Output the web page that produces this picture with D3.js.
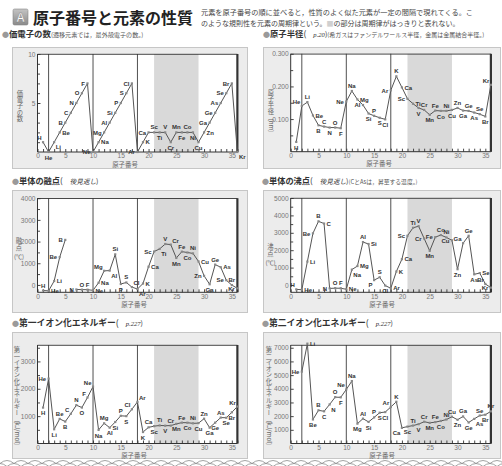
<!DOCTYPE html>
<html><head><meta charset="utf-8">
<script src="https://cdn.jsdelivr.net/npm/d3@7"></script>
<style>
body{margin:0;background:#fff;}
svg{display:block;}
</style></head><body>
<svg id="chart" width="502" height="466"></svg>
<script>
// ---- data ----
const elements = ["H","He","Li","Be","B","C","N","O","F","Ne","Na","Mg","Al","Si","P","S","Cl","Ar","K","Ca","Sc","Ti","V","Cr","Mn","Fe","Co","Ni","Cu","Zn","Ga","Ge","As","Se","Br","Kr"];
const atomicNumbers = d3.range(1, 37);

const valenceElectrons = [1,0,1,2,3,4,5,6,7,0,1,2,3,4,5,6,7,0,1,2,2,2,2,1,2,2,2,2,1,2,3,4,5,6,7,0];
const atomicRadius = [0.030,0.140,0.152,0.111,0.081,0.077,0.074,0.074,0.072,0.154,0.186,0.160,0.143,0.117,0.110,0.104,0.099,0.188,0.231,0.197,0.162,0.147,0.134,0.128,0.113,0.126,0.125,0.125,0.128,0.134,0.126,0.125,0.120,0.115,0.108,0.205];
const meltingPoint = [-259,-272,181,1282,2077,null,-210,-218,-220,-249,98,650,660,1410,44,113,-101,-189,64,839,1541,1660,1887,1860,1244,1535,1495,1453,1083,420,30,937,817,217,-7,-157];
const boilingPoint = [-253,-269,1347,2970,3660,3530,-196,-183,-188,-246,883,1090,2467,2355,280,445,-34,-186,774,1484,2831,3287,3380,2671,1962,2750,2870,2732,2567,907,2403,2830,613,685,59,-153];
const ionization1 = [1312,2372,520,899,801,1086,1402,1314,1681,2081,496,738,578,786,1012,1000,1251,1521,419,590,633,659,651,653,717,762,760,737,745,906,579,762,947,941,1140,1351];
const ionization2 = [null,5251,7298,1757,2427,2353,2856,3388,3374,3952,4562,1451,1817,1577,1907,2252,2298,2666,3052,1145,1235,1310,1414,1591,1509,1562,1648,1753,1958,1733,1979,1537,1798,2045,2103,2350];

const xTickLabels = [0,5,10,15,20,25,30,35];
const periodBreaks = [2, 10, 18];      // He, Ne, Ar
const lastElement = 36;                // Kr
const transitionBand = [21, 29];       // Sc – Cu

// ---- label placement for each chart ----
const placeValence = "tl b br r l l l l l l r l l l l l l l r l t b t b t b t b b r l l l l l br".split(" ");
const placeRadius  = "b tl t r b t b t b l t r l b t b b l t r l r b t b t b t b t b t b t b tl".split(" ");
const placeMelt    = "t r r l l - l t t r r tl br t b t tr br r r l br t tr b t b t r l b t r l t l".split(" ");
const placeBoil    = "tl r r l t r l t t r br r t r bl t b r r r l t t l b l t t l b tl t b r tl l".split(" ");
const placeIE1     = "b l b t b tl t b tl tl b t b b t b tl tr b t b t b t b t b t b t b b t b b tl".split(" ");
const placeIE2     = "- l r b t b br t b tl t b t b t b b tl t bl b t b t b t b t t b t b br t b t".split(" ");

const OFF = {t:[0,-3,"middle"], b:[0,7.6,"middle"], l:[-2.5,2.2,"end"], r:[2.5,2.2,"start"],
             tl:[-1.5,-2,"end"], tr:[1.5,-2,"start"], bl:[-1.5,7.2,"end"], br:[1.5,7.2,"start"]};

const JP = '"Noto Sans CJK JP", sans-serif';
const LAT = '"Liberation Sans", Arial, sans-serif';
const SERIF = '"Liberation Serif", "DejaVu Serif", serif';

const svg = d3.select("#chart");
const defs = svg.append("defs");
const grad = defs.append("linearGradient").attr("id","iconGrad").attr("x1",0).attr("y1",0).attr("x2",0).attr("y2",1);
grad.append("stop").attr("offset","0%").attr("stop-color","#c4c4c4");
grad.append("stop").attr("offset","100%").attr("stop-color","#8a8a8a");

// ---- header ----
svg.append("rect").attr("x",13).attr("y",9).attr("width",15).attr("height",16).attr("rx",1.5)
  .attr("fill","url(#iconGrad)").attr("stroke","#888").attr("stroke-width",0.6);
svg.append("text").attr("x",20.5).attr("y",22).attr("text-anchor","middle")
  .attr("font-family",LAT).attr("font-weight","bold").attr("font-size",12).attr("fill","#fff")
  .attr("stroke","#777").attr("stroke-width",0.4).text("A");
svg.append("text").attr("x",33).attr("y",23.5).attr("font-family",JP).attr("font-weight","bold")
  .attr("font-size",16).attr("fill","#222").text("原子番号と元素の性質");
svg.append("text").attr("x",201).attr("y",15).attr("font-family",JP).attr("font-size",7).attr("fill","#444")
  .attr("textLength",272).attr("lengthAdjust","spacingAndGlyphs")
  .text("元素を原子番号の順に並べると，性質のよく似た元素が一定の間隔で現れてくる。こ");
const l2 = svg.append("text").attr("x",201).attr("y",26).attr("font-family",JP).attr("font-size",7).attr("fill","#444");
l2.append("tspan").text("のような規則性を元素の周期律という。");
l2.append("tspan").attr("fill","#d0d0d0").text("■");
l2.append("tspan").text("の部分は周期律がはっきりと表れない。");

// ---- panel titles ----
function title(x, y, main, mainSize, page, note, noteSize) {
  const t = svg.append("text").attr("x",x).attr("y",y).attr("font-family",JP).attr("fill","#333");
  t.append("tspan").attr("fill","#9a9a9a").attr("font-size",7).text("●");
  t.append("tspan").attr("font-size",mainSize).attr("font-weight","bold").text(main);
  if (page) {
    t.append("tspan").attr("font-size",mainSize).text("(");
    t.append("tspan").attr("dx",7).attr("font-size",6.6).attr("font-style","italic")
      .attr("font-family", page.startsWith("p") ? SERIF : JP).text(page);
    t.append("tspan").attr("font-size",7).text(")");
  }
  if (note) t.append("tspan").attr("font-size",noteSize).attr("fill","#555").text(note);
}
title(2, 37, "価電子の数", 8.4, null, "(遷移元素では，最外殻電子の数。)", 6.1);
title(263, 37, "原子半径", 8.4, "p.20", "(希ガスはファンデルワールス半径，金属は金属結合半径。)", 6);
title(12, 184, "単体の融点", 8.2, "後見返し", null);
title(262, 184, "単体の沸点", 8.2, "後見返し", "(CとAsは，昇華する温度。)", 5.8);
title(12, 326, "第一イオン化エネルギー", 8.8, "p.227", null);
title(262, 326, "第二イオン化エネルギー", 8.8, "p.227", null);

// ---- panels ----
const panels = [
  {values: valenceElectrons, place: placeValence, frame:[12,47,235,121], xr:[37.5,238.5], yr:[152,54],
   dom:[0,10], major:[5,10], minor:d3.range(1,10), fmt:d3.format("d"), xt:[125,166.5],
   ytitle:{text:"価電子の数", x:20, y:106}},
  {values: atomicRadius, place: placeRadius, frame:[263,47,237,121], xr:[290.7,492], yr:[151.7,53.8],
   dom:[0,0.3], major:[0.1,0.2,0.3], minor:[0.05,0.15,0.25], fmt:d3.format(".3f"), xt:[379,166],
   ytitle:{text:"原子半径〔nm〕", x:271, y:113}},
  {values: meltingPoint, place: placeMelt, frame:[12,190,235,122], xr:[37.5,238.5], yr:[292.3,198.2],
   dom:[-340,4000], major:[0,1000,2000,3000,4000], minor:[500,1500,2500,3500], fmt:d3.format("d"), xt:[134,307],
   ytitle:{text:"融点", unit:"(℃)", x:19, y:244}},
  {values: boilingPoint, place: placeBoil, frame:[263,190,237,122], xr:[290.7,492], yr:[292.3,198],
   dom:[-420,5000], major:[0,1000,2000,3000,4000,5000], minor:[500,1500,2500,3500,4500], fmt:d3.format("d"), xt:[382,307],
   ytitle:{text:"沸点", unit:"(℃)", x:270.5, y:250}},
  {values: ionization1, place: placeIE1, frame:[12,332,235,126], xr:[37.5,238.5], yr:[443.5,345],
   dom:[0,3600], major:[1000,2000,3000], minor:[500,1500,2500,3500], fmt:d3.format("d"), xt:[134,458.3],
   ytitle:{text:"第一イオン化エネルギー〔kJ/mol〕", x:17, y:398}},
  {values: ionization2, place: placeIE2, frame:[263,332,237,126], xr:[290.7,492], yr:[443.5,345],
   dom:[0,7200], major:[1000,2000,3000,4000,5000,6000,7000], minor:[], fmt:d3.format("d"), xt:[382,458.3],
   ytitle:{text:"第二イオン化エネルギー〔kJ/mol〕", x:269, y:398}}
];

panels.forEach(p => {
  const g = svg.append("g");
  const [fx, fy, fw, fh] = p.frame;
  g.append("rect").attr("x",fx+0.5).attr("y",fy+0.5).attr("width",fw).attr("height",fh)
    .attr("fill","#ececec").attr("stroke","#c6c6c6").attr("stroke-width",1);

  const x = d3.scaleLinear().domain([0, 36.2]).range(p.xr);
  const y = d3.scaleLinear().domain(p.dom).range(p.yr);
  const top = p.yr[1], bot = p.yr[0];

  // plot background and the less-periodic band
  g.append("rect").attr("x",x(0)).attr("y",top).attr("width",x(36.2)-x(0)).attr("height",bot-top).attr("fill","#fff");
  g.append("rect").attr("x",x(transitionBand[0])).attr("y",top)
    .attr("width",x(transitionBand[1])-x(transitionBand[0])).attr("height",bot-top).attr("fill","#d9d9d9");

  // period separators
  g.selectAll("line.sep").data(periodBreaks).join("line")
    .attr("x1",d=>x(d)).attr("x2",d=>x(d)).attr("y1",top).attr("y2",bot)
    .attr("stroke","#505050").attr("stroke-width",1);
  g.append("line").attr("x1",x(lastElement)).attr("x2",x(lastElement)).attr("y1",top).attr("y2",bot)
    .attr("stroke","#333").attr("stroke-width",2.2);
  g.append("line").attr("x1",x(0)).attr("x2",x(lastElement)).attr("y1",top+0.3).attr("y2",top+0.3)
    .attr("stroke","#333").attr("stroke-width",0.9);

  // axes
  const yMajor = d3.axisLeft(y).tickValues(p.major).tickSize(-3).tickPadding(2).tickFormat(p.fmt);
  const ya = g.append("g").attr("transform",`translate(${x(0)},0)`).call(yMajor);
  const yMinor = d3.axisLeft(y).tickValues(p.minor).tickSize(-2.5).tickFormat("");
  const ym = g.append("g").attr("transform",`translate(${x(0)},0)`).call(yMinor);
  ym.select(".domain").remove();
  ya.select(".domain").attr("d",`M0,${top}V${bot}`).attr("stroke","#333");

  const xAxis = d3.axisBottom(x).tickValues(d3.range(0,37)).tickSize(-3).tickPadding(1.8)
    .tickFormat(d => xTickLabels.includes(d) ? d : "");
  const xa = g.append("g").attr("transform",`translate(0,${bot})`).call(xAxis);
  xa.select(".domain").attr("d",`M${x(0)},0H${x(lastElement)}`).attr("stroke","#333");
  [ya, ym, xa].forEach(a => {
    a.selectAll(".tick line").attr("stroke","#333").attr("stroke-width",0.9);
    a.selectAll("text").attr("font-family",LAT).attr("font-size",6.6).attr("fill","#777");
  });

  g.append("text").attr("x",p.xt[0]).attr("y",p.xt[1]).attr("text-anchor","middle")
    .attr("font-family",JP).attr("font-size",6.4).attr("fill","#666").text("原子番号");

  // y title: vertical text, with an optional unit set horizontally below it
  const yt = p.ytitle;
  g.append("text").attr("x",yt.x).attr("y",yt.y).attr("text-anchor","middle")
    .style("writing-mode","vertical-rl").attr("font-family",JP).attr("font-size",6.3).attr("fill","#666")
    .text(yt.text);
  if (yt.unit) {
    g.append("text").attr("x",yt.x).attr("y",yt.y + 14.5).attr("text-anchor","middle")
      .attr("font-family",JP).attr("font-size",6.1).attr("fill","#666").text(yt.unit);
  }

  // series line, points, labels
  const pts = atomicNumbers.map((n,i) => ({n, v:p.values[i], el:elements[i], pl:p.place[i]}));
  const line = d3.line().defined(d => d.v != null).x(d => x(d.n)).y(d => y(d.v));
  g.append("path").datum(pts).attr("d",line).attr("fill","none").attr("stroke","#555").attr("stroke-width",1);
  const valid = pts.filter(d => d.v != null);
  g.selectAll("rect.pt").data(valid).join("rect")
    .attr("x",d=>x(d.n)-1.1).attr("y",d=>y(d.v)-1.1).attr("width",2.2).attr("height",2.2)
    .attr("fill","#888");
  g.selectAll("text.el").data(valid).join("text")
    .attr("x",d=>x(d.n)+OFF[d.pl][0]).attr("y",d=>y(d.v)+OFF[d.pl][1]).attr("text-anchor",d=>OFF[d.pl][2])
    .attr("font-family",LAT).attr("font-weight","bold").attr("font-size",6).attr("fill","#333")
    .text(d=>d.el);
});

// ---- decorative scallop border along the bottom ----
function scallops(y0, phase) {
  let d = "";
  for (let sx = -14 + phase; sx < 510; sx += 14) d += `M${sx},${y0}Q${sx+7},${y0-6} ${sx+14},${y0}`;
  return d;
}
svg.append("path").attr("d",scallops(463.5,0)).attr("fill","none").attr("stroke","#8a8a8a").attr("stroke-width",0.8);
svg.append("path").attr("d",scallops(466.5,7)).attr("fill","none").attr("stroke","#8a8a8a").attr("stroke-width",0.8);
</script>
</body></html>
